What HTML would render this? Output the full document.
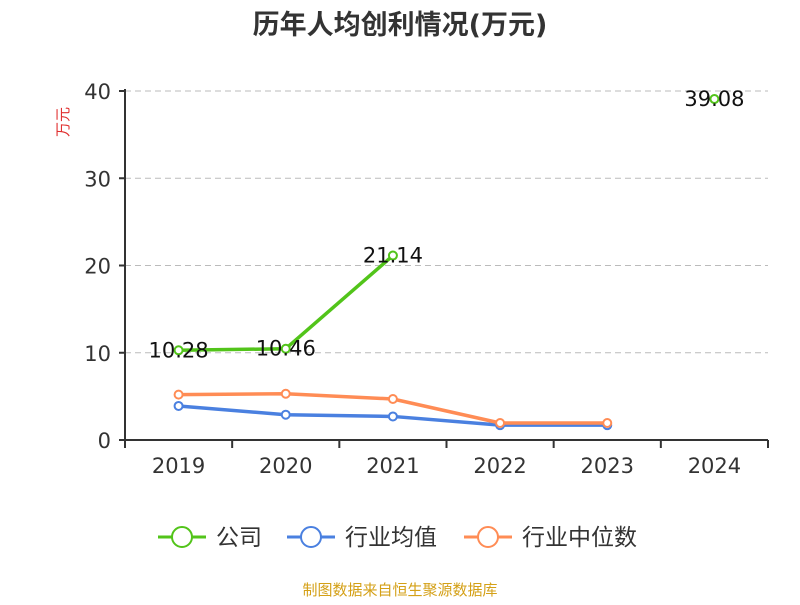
<!DOCTYPE html>
<html><head><meta charset="utf-8"><style>
body{margin:0;background:#fff;}
svg text{font-family:"DejaVu Sans","Noto Sans CJK SC",sans-serif;}
</style></head><body>
<svg width="800" height="600" id="c">
<text x="400" y="34" text-anchor="middle" font-size="27" font-weight="bold" fill="#333">历年人均创利情况(万元)</text>
<text transform="translate(68,122) rotate(-90)" text-anchor="middle" font-size="15" fill="#e03030">万元</text>
<g id="grid"></g><g id="axes"></g><g id="series"></g>
<g>
<g><line x1="158" y1="537" x2="206" y2="537" stroke="#52c41a" stroke-width="3"/><circle cx="182" cy="537" r="10" fill="#fff" stroke="#52c41a" stroke-width="2"/><text x="216" y="545" font-size="23" fill="#333">公司</text></g>
<g><line x1="287" y1="537" x2="335" y2="537" stroke="#4a80e0" stroke-width="3"/><circle cx="311" cy="537" r="10" fill="#fff" stroke="#4a80e0" stroke-width="2"/><text x="345" y="545" font-size="23" fill="#333">行业均值</text></g>
<g><line x1="464" y1="537" x2="512" y2="537" stroke="#ff8c55" stroke-width="3"/><circle cx="488" cy="537" r="10" fill="#fff" stroke="#ff8c55" stroke-width="2"/><text x="522" y="545" font-size="23" fill="#333">行业中位数</text></g>
</g>
<text x="400" y="595" text-anchor="middle" font-size="15" fill="#d4a017">制图数据来自恒生聚源数据库</text>
</svg>
<script>
const categories=["2019","2020","2021","2022","2023","2024"];
const company=[10.28,10.46,21.14,null,null,39.08];
const industryAvg=[3.9,2.9,2.7,1.7,1.7,null];
const industryMedian=[5.2,5.3,4.7,1.95,1.95,null];
const yTicks=[0,10,20,30,40];
const NS="http://www.w3.org/2000/svg";
const x0=125,x1=768,y0=440,y1=91,yMax=40;
const step=(x1-x0)/categories.length;
const xs=i=>x0+step*(i+0.5);
const ys=v=>y0-(v/yMax)*(y0-y1);
function mk(tag,attrs,parent){const e=document.createElementNS(NS,tag);for(const k in attrs)e.setAttribute(k,attrs[k]);parent.appendChild(e);return e;}
const grid=document.getElementById('grid'),axes=document.getElementById('axes'),ser=document.getElementById('series');
yTicks.forEach(t=>{
 if(t>0){const g=mk('line',{x1:x0,x2:x1,y1:ys(t),y2:ys(t),stroke:'#bbb','stroke-dasharray':'6,4'},grid);
 
 }
 const tk=mk('line',{x1:x0-6,x2:x0,y1:ys(t),y2:ys(t),stroke:'#333','stroke-width':2},axes);
 
 
 const tx=mk('text',{x:x0-14,y:ys(t)+8,'text-anchor':'end','font-size':21,fill:'#333'},axes);tx.textContent=t;
 
 
});
const ya=mk('line',{x1:x0,x2:x0,y1:y1-2,y2:y0,stroke:'#333','stroke-width':2},axes);


const xa=mk('line',{x1:x0,x2:x1,y1:y0,y2:y0,stroke:'#333','stroke-width':2},axes);


categories.forEach((c,i)=>{
 const tk=mk('line',{x1:x0+step*i,x2:x0+step*i,y1:y0,y2:y0+8,stroke:'#333','stroke-width':2},axes);
 
 
 const tx=mk('text',{x:xs(i),y:y0+33,'text-anchor':'middle','font-size':21,fill:'#333'},axes);tx.textContent=c;
 
 
});
mk('line',{x1:x1,x2:x1,y1:y0,y2:y0+8,stroke:'#333','stroke-width':2},axes);
function series(data,color,name,labels){
 let d='',pen=false;
 data.forEach((v,i)=>{if(v==null){pen=false;return;}d+=(pen?'L':'M')+xs(i)+' '+ys(v)+' ';pen=true;});
 const p=mk('path',{d:d,fill:'none',stroke:color,'stroke-width':3.5,'stroke-linejoin':'round'},ser);
 
 
 data.forEach((v,i)=>{if(v==null)return;
  const c=mk('circle',{cx:xs(i),cy:ys(v),r:4,fill:'#fff',stroke:color,'stroke-width':2},ser);
  
  
  if(labels){const t=mk('text',{x:xs(i),y:ys(v)+7,'text-anchor':'middle','font-size':21,fill:'#111'},ser);t.textContent=v.toFixed(2);
   
   }
 });
}
series(industryAvg,'#4a80e0','industry-average',false);
series(industryMedian,'#ff8c55','industry-median',false);
series(company,'#52c41a','company',true);
</script>
</body></html>
